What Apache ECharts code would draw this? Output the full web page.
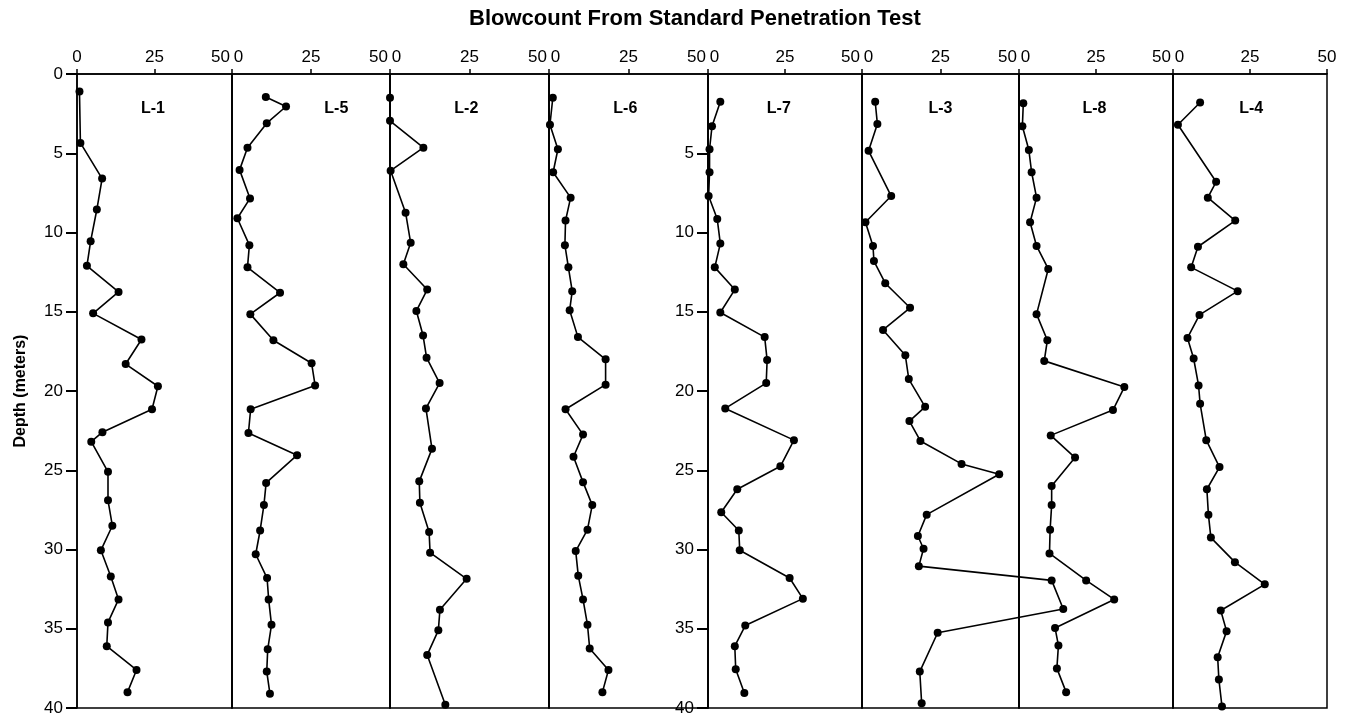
<!DOCTYPE html>
<html><head><meta charset="utf-8">
<script src="https://cdn.jsdelivr.net/npm/echarts@6/dist/echarts.min.js"></script>
<style>html,body{margin:0;padding:0;background:#fff}#c{width:1350px;height:717px}</style>
</head><body><div id="c"></div>
<script>
// ---------- data ----------
const chartTitle = 'Blowcount From Standard Penetration Test';
const depthAxisName = 'Depth (meters)';
const borings = ['L-1', 'L-5', 'L-2', 'L-6', 'L-7', 'L-3', 'L-8', 'L-4'];
const blowTicks = [0, 25, 50];
const depthTicks = [0, 5, 10, 15, 20, 25, 30, 35, 40];

const L1_depth = [1.1, 4.35, 6.6, 8.55, 10.55, 12.1, 13.75, 15.1, 16.75, 18.3, 19.7, 21.15, 22.6, 23.2, 25.1, 26.9, 28.5, 30.05, 31.7, 33.15, 34.6, 36.1, 37.6, 39.0];
const L1_blows = [0.8, 1.1, 8.1, 6.4, 4.4, 3.2, 13.4, 5.2, 20.8, 15.7, 26.1, 24.2, 8.2, 4.6, 10, 10, 11.4, 7.7, 10.9, 13.4, 10, 9.6, 19.2, 16.3];

const L5_depth = [1.45, 2.05, 3.1, 4.65, 6.05, 7.85, 9.1, 10.8, 12.2, 13.8, 15.15, 16.8, 18.25, 19.65, 21.15, 22.65, 24.05, 25.8, 27.2, 28.8, 30.3, 31.8, 33.15, 34.75, 36.3, 37.7, 39.1];
const L5_blows = [10.7, 17.1, 11, 4.9, 2.4, 5.7, 1.7, 5.5, 4.9, 15.2, 5.8, 13.1, 25.2, 26.3, 5.9, 5.2, 20.6, 10.8, 10.1, 8.9, 7.5, 11.1, 11.6, 12.5, 11.3, 11.0, 12.0];

const L2_depth = [1.5, 2.95, 4.65, 6.1, 8.75, 10.65, 12.0, 13.6, 14.95, 16.5, 17.9, 19.5, 21.1, 23.65, 25.7, 27.05, 28.9, 30.2, 31.85, 33.8, 35.1, 36.65, 39.8];
const L2_blows = [0, 0, 10.5, 0.2, 4.9, 6.5, 4.2, 11.7, 8.3, 10.4, 11.5, 15.6, 11.3, 13.2, 9.2, 9.4, 12.3, 12.6, 24.1, 15.7, 15.2, 11.7, 17.4];

const L6_depth = [1.5, 3.2, 4.75, 6.2, 7.8, 9.25, 10.8, 12.2, 13.7, 14.9, 16.6, 18.0, 19.6, 21.15, 22.75, 24.15, 25.75, 27.2, 28.75, 30.1, 31.65, 33.15, 34.75, 36.25, 37.6, 39.0];
const L6_blows = [1.2, 0.3, 2.8, 1.3, 6.8, 5.2, 5.0, 6.1, 7.3, 6.5, 9.1, 17.8, 17.8, 5.2, 10.7, 7.7, 10.7, 13.6, 12.1, 8.4, 9.2, 10.7, 12.1, 12.8, 18.7, 16.8];

const L7_depth = [1.75, 3.3, 4.75, 6.2, 7.7, 9.15, 10.7, 12.2, 13.6, 15.05, 16.6, 18.05, 19.5, 21.1, 23.1, 24.75, 26.2, 27.65, 28.8, 30.05, 31.8, 33.1, 34.8, 36.1, 37.55, 39.05];
const L7_blows = [4.0, 1.3, 0.5, 0.5, 0.2, 3.0, 4.0, 2.2, 8.7, 4.0, 18.4, 19.2, 18.9, 5.6, 27.9, 23.5, 9.5, 4.3, 10, 10.3, 26.5, 30.8, 12.1, 8.7, 9.0, 11.8];

const L3_depth = [1.75, 3.15, 4.85, 7.7, 9.35, 10.85, 11.8, 13.2, 14.75, 16.15, 17.75, 19.25, 21.0, 21.9, 23.15, 24.6, 25.25, 27.8, 29.15, 29.95, 31.05, 31.95, 33.75, 35.25, 37.7, 39.7];
const L3_blows = [4.2, 4.9, 2.1, 9.3, 1.1, 3.5, 3.8, 7.4, 15.3, 6.7, 13.8, 14.9, 20.1, 15.1, 18.6, 31.7, 43.7, 20.6, 17.8, 19.6, 18.1, 60.4, 64.1, 24.1, 18.4, 19.0];

const L8_depth = [1.85, 3.3, 4.8, 6.2, 7.8, 9.35, 10.85, 12.3, 15.15, 16.8, 18.1, 19.75, 21.2, 22.8, 24.2, 26.0, 27.2, 28.75, 30.25, 31.95, 33.15, 34.95, 36.05, 37.5, 39.0];
const L8_blows = [1.4, 1.1, 3.2, 4.1, 5.7, 3.6, 5.7, 9.5, 5.7, 9.2, 8.2, 34.2, 30.5, 10.3, 18.2, 10.6, 10.6, 10.1, 9.9, 21.8, 30.9, 11.7, 12.8, 12.3, 15.3];

const L4_depth = [1.8, 3.2, 6.8, 7.8, 9.25, 10.9, 12.2, 13.7, 15.2, 16.65, 17.95, 19.65, 20.8, 23.1, 24.8, 26.2, 27.8, 29.25, 30.8, 32.2, 33.85, 35.15, 36.8, 38.2, 39.9];
const L4_blows = [8.8, 1.6, 14, 11.3, 20.2, 8.1, 5.9, 21, 8.6, 4.7, 6.7, 8.3, 8.8, 10.8, 15.1, 11, 11.5, 12.3, 20.1, 29.8, 15.5, 17.4, 14.5, 14.9, 15.9];

const depths = [L1_depth, L5_depth, L2_depth, L6_depth, L7_depth, L3_depth, L8_depth, L4_depth];
const blows = [L1_blows, L5_blows, L2_blows, L6_blows, L7_blows, L3_blows, L8_blows, L4_blows];

// ---------- layout / style ----------
const panelEdges = [77, 232, 390, 549, 708, 862, 1019, 1173, 1327];
const plotTop = 74, plotHeight = 634;
const labelAt = [24.5, 33, 24, 24, 23, 25, 24.5, 25.4]; // panel label positions in axis units
const FONT = 'Liberation Sans, Arial, sans-serif';
const BLACK = '#000';

const chart = echarts.init(document.getElementById('c'), null, {renderer: 'canvas'});
const grid = [], xAxis = [], yAxis = [], series = [];
const title = [{
  text: chartTitle, left: 469, top: 8, padding: 0,
  textStyle: {fontFamily: FONT, fontSize: 22, fontWeight: 'bold', color: BLACK}
}];

const xMax = blowTicks[blowTicks.length - 1];
const yMin = depthTicks[0], yMax = depthTicks[depthTicks.length - 1];

borings.forEach((name, i) => {
  const left = panelEdges[i], width = panelEdges[i + 1] - panelEdges[i];
  const withLabels = (i === 0 || i === 4);
  grid.push({left: left, top: plotTop, width: width, height: plotHeight,
    show: true, borderColor: BLACK, borderWidth: 1.5, backgroundColor: 'transparent'});
  xAxis.push({
    gridIndex: i, type: 'value', position: 'top', min: blowTicks[0], max: xMax,
    interval: blowTicks[1] - blowTicks[0],
    axisLine: {show: true, lineStyle: {color: BLACK, width: 1.5}},
    axisTick: {show: true, length: 5, lineStyle: {color: BLACK, width: 1.5}},
    splitLine: {show: false},
    axisLabel: {
      color: BLACK, fontFamily: FONT, fontSize: 17, margin: 8,
      formatter: function (v) {
        if (v === 0 && i > 0) return '{r|0}';
        if (v === xMax && i < borings.length - 1) return '{l|' + v + '}';
        return String(v);
      },
      rich: {
        r: {fontFamily: FONT, fontSize: 17, color: BLACK, padding: [0, 0, 0, 13]},
        l: {fontFamily: FONT, fontSize: 17, color: BLACK, padding: [0, 23, 0, 0]}
      }
    }
  });
  yAxis.push({
    gridIndex: i, type: 'value', inverse: true, min: yMin, max: yMax,
    interval: depthTicks[1] - depthTicks[0],
    name: i === 0 ? depthAxisName : '', nameLocation: 'middle', nameGap: 48,
    nameTextStyle: {fontFamily: FONT, fontSize: 16, fontWeight: 'bold', color: BLACK},
    axisLine: {show: true, lineStyle: {color: BLACK, width: 1.5}},
    axisTick: {show: withLabels, length: 11, lineStyle: {color: BLACK, width: 2}},
    axisLabel: {show: withLabels, showMinLabel: i === 0, color: BLACK, fontFamily: FONT, fontSize: 17, margin: 14},
    splitLine: {show: false}
  });
  title.push({
    text: name, left: left + labelAt[i] * width / 50, top: 101, textAlign: 'center', padding: 0,
    textStyle: {fontFamily: FONT, fontSize: 16, fontWeight: 'bold', color: BLACK}
  });
});

// hidden wide frame for L-3 (its values run past 50 into the next panel)
const l3 = borings.indexOf('L-3');
const l3Width = panelEdges[l3 + 1] - panelEdges[l3];
grid.push({left: panelEdges[l3], top: plotTop, width: 2 * l3Width, height: plotHeight, show: false});
const extIdx = grid.length - 1;
xAxis.push({gridIndex: extIdx, type: 'value', show: false, min: 0, max: 2 * xMax,
  splitLine: {show: false}, axisLine: {show: false}});
yAxis.push({gridIndex: extIdx, type: 'value', show: false, inverse: true, min: yMin, max: yMax,
  splitLine: {show: false}, axisLine: {show: false}});

borings.forEach((name, i) => {
  const ax = (i === l3) ? extIdx : i;
  series.push({
    name: name, type: 'line', xAxisIndex: ax, yAxisIndex: ax,
    data: blows[i].map((b, k) => [b, depths[i][k]]),
    symbol: 'circle', symbolSize: 8, showSymbol: true,
    clip: false,
    itemStyle: {color: BLACK},
    lineStyle: {color: BLACK, width: 1.6},
    z: 5
  });
});

chart.setOption({
  backgroundColor: '#fff', animation: false,
  title: title, grid: grid, xAxis: xAxis, yAxis: yAxis, series: series
});
</script>
</body></html>
